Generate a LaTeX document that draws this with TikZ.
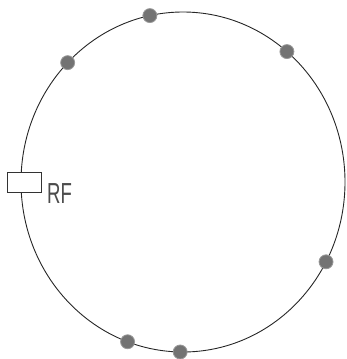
\documentclass[tikz,border=0pt]{standalone}
\usepackage{fontspec}
\setmainfont{Liberation Sans}
\usetikzlibrary{calc}
\begin{document}
\begin{tikzpicture}[x=1pt,y=-1pt,
  ring/.style={draw=black!85,line width=0.9pt},
  bead/.style={circle,fill=black!55,draw=black!40,line width=0.8pt,minimum size=14pt,inner sep=0pt},
  rfbox/.style={draw=black!80,fill=white,line width=0.7pt,minimum width=34pt,minimum height=20pt,inner sep=0pt},
  lbl/.style={font=\fontsize{29}{29}\selectfont,text=black!70,xscale=0.64,inner sep=0pt,anchor=west}]
\useasboundingbox (0,0) rectangle (347,359);
\coordinate (c) at (183,182);
\draw[ring] (c) ellipse [x radius=162, y radius=170];
\node[bead] (b1) at ($(c)+({162*cos(101.8)},{-170*sin(101.8)})$) {};
\node[bead] (b2) at ($(c)+({162*cos(50.1)},{-170*sin(50.1)})$) {};
\node[bead] (b3) at ($(c)+({162*cos(135.4)},{-170*sin(135.4)})$) {};
\node[bead] (b4) at ($(c)+({162*cos(-28)},{-170*sin(-28)})$) {};
\node[bead] (b5) at ($(c)+({162*cos(250)},{-170*sin(250)})$) {};
\node[bead] (b6) at ($(c)+({162*cos(269)},{-170*sin(269)})$) {};
\node[rfbox] (rf) at (24,182) {};
\node[lbl] (rft) at (47,194) {RF};
\end{tikzpicture}
\end{document}
